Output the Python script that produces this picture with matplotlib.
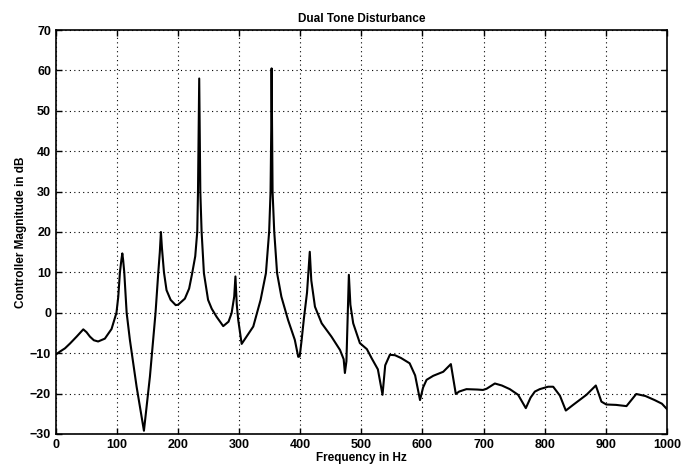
import numpy as np
import matplotlib
matplotlib.use('Agg')
from matplotlib import pyplot as plt

# controller magnitude response
freq = [0, 6.5, 14.7, 23, 33.8, 44.7, 50, 55.6, 62, 69, 80, 91, 95, 99, 102, 104.7, 107, 108.6,
        110, 111.8, 115.7, 121, 132, 144, 153.8, 163, 167.5, 170, 171.8, 173.5, 176.8, 181,
        187.7, 196, 200, 211, 218, 223, 228, 231.3, 232.5, 233.6, 234.5, 235.4, 236.3, 238.4,
        242.2, 249, 255, 263, 273.8, 282.5, 287.5, 291.8, 293.8, 296, 298.4, 304, 323, 335,
        343.7, 349, 351.3, 352.4, 353, 353.8, 354.6, 357.3, 362, 369, 380, 391, 396.6, 399,
        402, 405.9, 411, 415.5, 418, 424, 435, 451, 465, 471, 473, 475.5, 477, 479.5, 482,
        486.6, 497.5, 509, 517, 527, 534.6, 539, 546.6, 555, 565, 579, 588, 596, 601, 606.7,
        617.6, 634, 646.5, 654.6, 660, 672, 690, 699, 705, 718.5, 730, 743, 756.6, 769.2, 777,
        784, 792, 805.7, 814, 825, 834.7, 846.6, 868.5, 883.8, 893, 901, 917, 934, 950, 965,
        980, 992, 1000]
mag_db = [-10.3, -9.6, -8.8, -7.6, -5.9, -4.1, -4.8, -5.9, -6.8, -7.1, -6.4, -4.0, -2.0, 0.0,
          4.0, 10.0, 13.0, 14.7, 13.0, 10.0, 0.0, -6.7, -18.3, -29.2, -15.8, 0.0, 10.0, 15.0,
          20.0, 16.0, 10.0, 5.6, 3.2, 1.9, 2.0, 3.5, 6.0, 9.8, 14.0, 20.1, 30.0, 45.0, 58.0,
          45.0, 30.0, 20.1, 9.8, 3.2, 1.0, -1.0, -3.3, -2.2, -0.1, 4.0, 9.0, 2.0, -1.8, -7.7,
          -3.4, 3.2, 9.8, 20.1, 30.0, 45.0, 60.5, 45.0, 30.0, 20.1, 9.8, 4.0, -1.8, -6.7,
          -10.9, -10.8, -7.0, -1.4, 5.0, 15.1, 8.0, 1.5, -2.6, -5.9, -9.2, -11.5, -14.9, -12.0,
          -4.0, 9.4, 2.0, -2.6, -7.5, -9.0, -11.3, -14.0, -20.3, -13.0, -10.4, -10.5, -11.2,
          -12.5, -15.5, -21.6, -18.5, -16.6, -15.6, -14.6, -12.7, -20.1, -19.5, -18.9, -19.0,
          -19.1, -18.8, -17.5, -18.0, -18.9, -20.3, -23.6, -21.0, -19.5, -18.9, -18.3, -18.3,
          -20.5, -24.2, -22.8, -20.3, -18.0, -22.0, -22.7, -22.8, -23.1, -20.1, -20.6, -21.6,
          -22.5, -23.8]

xticks = np.arange(0, 1001, 100)
yticks = np.arange(-30, 71, 10)

plt.rcParams['font.family'] = ['Liberation Sans', 'DejaVu Sans']

fig = plt.figure(figsize=(6.86, 4.66), dpi=100)
ax = fig.add_axes([0.0816, 0.0687, 0.8904, 0.8669])

ax.plot(freq, mag_db, color='black', linewidth=1.5)

ax.set_xlim(0, 1000)
ax.set_ylim(-30, 70)
ax.set_xticks(xticks)
ax.set_yticks(yticks)
ax.grid(True, color='black', linestyle=(0, (1, 3)), linewidth=0.8)
ax.tick_params(direction='in', top=True, right=True, length=4, width=1,
               labelsize=9)
for lbl in ax.get_xticklabels() + ax.get_yticklabels():
    lbl.set_fontweight('bold')
for sp in ax.spines.values():
    sp.set_linewidth(1.2)

ax.set_title('Dual Tone Disturbance', fontsize=8.5, fontweight='bold', pad=6)
ax.set_xlabel('Frequency in Hz', fontsize=8.5, fontweight='bold', labelpad=1)
ax.set_ylabel('Controller Magnitude in dB', fontsize=8.5, fontweight='bold', labelpad=2)

fig.savefig('out.png', dpi=100)
